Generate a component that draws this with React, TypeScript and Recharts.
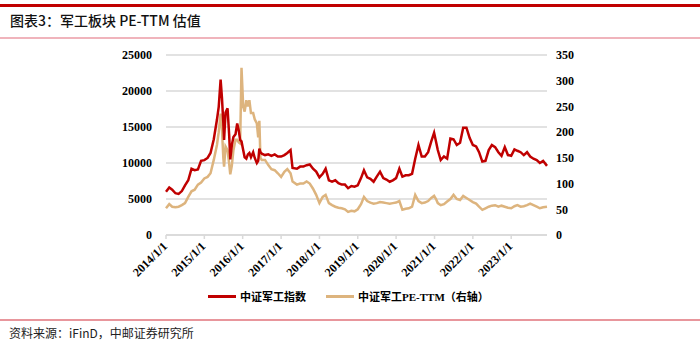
import React from "react";
import { LineChart, Line, XAxis, YAxis, CartesianGrid } from "recharts";

// 日期（月度为主，2015-2016 波动段加密）
const dates = [
  "2014-01-01", "2014-02-01", "2014-03-01", "2014-04-01", "2014-05-01", "2014-06-01",
  "2014-07-01", "2014-08-01", "2014-09-01", "2014-10-01", "2014-11-01", "2014-12-01",
  "2015-01-01", "2015-02-01", "2015-03-01", "2015-04-01", "2015-05-01", "2015-05-18",
  "2015-06-05", "2015-06-18", "2015-07-01", "2015-07-08", "2015-07-22", "2015-08-10",
  "2015-08-25", "2015-09-05", "2015-09-20", "2015-10-05", "2015-10-25", "2015-11-10",
  "2015-11-25", "2015-12-08", "2015-12-21", "2016-01-06", "2016-01-20", "2016-02-05",
  "2016-02-20", "2016-03-05", "2016-03-20", "2016-04-10", "2016-04-25", "2016-05-15",
  "2016-05-28", "2016-06-08", "2016-06-18", "2016-07-01", "2016-08-01", "2016-09-01",
  "2016-10-01", "2016-11-01", "2016-12-01", "2017-01-01", "2017-02-01", "2017-03-01",
  "2017-04-01", "2017-04-20", "2017-06-01", "2017-07-01", "2017-08-01", "2017-09-01",
  "2017-10-01", "2017-11-01", "2017-12-01", "2018-01-01", "2018-02-01", "2018-03-01",
  "2018-04-01", "2018-05-01", "2018-06-01", "2018-07-01", "2018-08-01", "2018-09-01",
  "2018-10-01", "2018-11-01", "2018-12-01", "2019-01-01", "2019-02-01", "2019-03-01",
  "2019-04-01", "2019-05-01", "2019-06-01", "2019-07-01", "2019-08-01", "2019-09-01",
  "2019-10-01", "2019-11-01", "2019-12-01", "2020-01-01", "2020-02-01", "2020-03-01",
  "2020-04-01", "2020-05-01", "2020-06-01", "2020-07-01", "2020-08-01", "2020-09-01",
  "2020-10-01", "2020-11-01", "2020-12-01", "2020-12-28", "2021-01-15", "2021-02-01",
  "2021-03-01", "2021-04-01", "2021-05-01", "2021-06-01", "2021-07-01", "2021-08-01",
  "2021-09-01", "2021-10-01", "2021-11-01", "2021-12-01", "2022-01-01", "2022-02-01",
  "2022-03-01", "2022-04-01", "2022-05-01", "2022-06-01", "2022-07-01", "2022-08-01",
  "2022-09-01", "2022-10-01", "2022-11-01", "2022-12-01", "2023-01-01", "2023-02-01",
  "2023-03-01", "2023-04-01", "2023-05-01", "2023-06-01", "2023-07-01", "2023-08-01",
  "2023-09-01", "2023-10-01", "2023-11-01", "2023-12-08",
];

// 中证军工指数
const indexValues = [
  6000, 6600, 6300, 5800, 5700, 6100, 6900, 7600, 9200, 9000, 9100, 10300,
  10400, 10700, 11400, 13300, 16000, 17800, 21600, 19000, 15500, 13200, 17000, 17600,
  14000, 10500, 12500, 13600, 14000, 15500, 14500, 13200, 13000, 11800, 10800, 10600,
  11200, 11400, 10800, 11500, 10700, 10000, 10300, 12000, 11500, 11300, 11100, 11200,
  11000, 11200, 10900, 10900, 11100, 11400, 11800, 9300, 9200, 9500, 9500, 9700,
  9800, 9200, 8800, 8000, 8500, 9200, 7600, 7400, 7600, 7200, 7000, 7000,
  6500, 6800, 6700, 6900, 7900, 9000, 8000, 7800, 7400, 8100, 8800, 7900,
  7700, 7400, 7600, 7900, 9200, 8100, 8300, 8300, 8500, 10600, 12500, 10900,
  10900, 11500, 13000, 14200, 13000, 11800, 10400, 10900, 10600, 13400, 13300, 12500,
  12800, 14900, 14900, 13500, 12500, 12300, 11500, 10200, 10300, 11800, 12500, 12200,
  11500, 11000, 12200, 11100, 11000, 11900, 11700, 11500, 11100, 11500, 10900, 10600,
  10400, 10000, 10300, 9600,
];

// 中证军工PE-TTM（右轴）
const peValues = [
  52, 60, 55, 54, 55, 58, 62, 74, 85, 88, 98, 102,
  110, 113, 120, 146, 175, 200, 236, 205, 150, 133, 172, 165,
  140, 118, 135, 165, 185, 185, 180, 178, 325, 250, 240, 262,
  250, 262, 237, 237, 225, 217, 190, 222, 150, 146, 146, 136,
  128, 126, 120, 113, 123, 128, 120, 104, 98, 100, 100, 104,
  100, 90, 78, 62, 74, 78, 62, 58, 55, 53, 52, 50,
  45, 47, 46, 50, 60, 74, 66, 63, 61, 62, 64, 63,
  62, 61, 62, 63, 66, 49, 51, 52, 55, 78, 66, 62,
  63, 66, 72, 76, 70, 62, 58, 60, 65, 70, 78, 70,
  68, 76, 72, 68, 64, 61, 55, 49, 52, 55, 57, 58,
  55, 57, 55, 53, 52, 56, 58, 55, 56, 58, 61, 58,
  55, 52, 54, 55,
];

const xTickLabels = [
  "2014-01-01", "2015-01-01", "2016-01-01", "2017-01-01", "2018-01-01",
  "2019-01-01", "2020-01-01", "2021-01-01", "2022-01-01", "2023-01-01",
];
const leftTicks = [0, 5000, 10000, 15000, 20000, 25000];
const rightTicks = [0, 50, 100, 150, 200, 250, 300, 350];

const toTime = (s: string) => Date.parse(s + "T00:00:00Z");

const data = dates.map((d, i) => ({
  time: toTime(d),
  index: indexValues[i],
  pe: peValues[i],
}));

const RED = "#C00000";
const TAN = "#DDB47E";
const GRID = "#D9D9D9";
const AXIS_FONT = '"Liberation Serif", "Times New Roman", serif';

function formatDate(ts: number): string {
  const d = new Date(ts);
  return `${d.getUTCFullYear()}/${d.getUTCMonth() + 1}/${d.getUTCDate()}`;
}

function RotatedTick(props: any) {
  const { x, y, payload } = props;
  return (
    <text
      x={x + 2}
      y={y + 6}
      transform={`rotate(-45, ${x + 2}, ${y + 6})`}
      textAnchor="end"
      fontFamily={AXIS_FONT}
      fontWeight="bold"
      fontSize={12}
      fill="#000"
    >
      {formatDate(payload.value)}
    </text>
  );
}

export default function App() {
  const start = toTime(dates[0]);
  const end = toTime(dates[dates.length - 1]);
  return (
    <div
      style={{
        position: "absolute",
        left: 0,
        top: 0,
        width: 700,
        height: 351,
        background: "#fff",
        overflow: "hidden",
      }}
    >
      {/* 顶部红线 */}
      <div style={{ position: "absolute", left: 0, top: 4, width: 700, height: 3, background: RED }} />
      <div
        style={{
          position: "absolute",
          left: 10,
          top: 10,
          fontFamily: '"Noto Sans CJK SC", sans-serif',
          fontSize: 14,
          fontWeight: 500,
          color: "#111",
          whiteSpace: "nowrap",
        }}
      >
        图表3：军工板块 PE-TTM 估值
      </div>
      <div style={{ position: "absolute", left: 0, top: 37, width: 700, height: 2, background: "#F0B4BC" }} />

      <div style={{ position: "absolute", left: 0, top: 0 }}>
        <LineChart width={700} height={300} data={data} margin={{ top: 55, right: 0, bottom: 0, left: 0 }}>
          <CartesianGrid yAxisId="left" vertical={false} stroke={GRID} strokeWidth={1.5} />
          <XAxis
            dataKey="time"
            type="number"
            scale="time"
            domain={[start, end]}
            ticks={xTickLabels.map(toTime)}
            tick={<RotatedTick />}
            height={65}
            stroke={GRID}
            strokeWidth={1.5}
            tickLine={{ stroke: GRID }}
            tickSize={4}
            interval={0}
          />
          <YAxis
            yAxisId="left"
            orientation="left"
            domain={[0, 25000]}
            ticks={leftTicks}
            width={166}
            axisLine={false}
            tickLine={false}
            tickMargin={8}
            tick={{ fontFamily: AXIS_FONT, fontWeight: "bold", fontSize: 12, fill: "#000" }}
          />
          <YAxis
            yAxisId="right"
            orientation="right"
            domain={[0, 350]}
            ticks={rightTicks}
            width={153}
            axisLine={false}
            tickLine={false}
            tickMargin={3}
            tick={{ fontFamily: AXIS_FONT, fontWeight: "bold", fontSize: 12, fill: "#000" }}
          />
          <Line
            yAxisId="right"
            type="linear"
            dataKey="pe"
            stroke={TAN}
            strokeWidth={2.5}
            dot={false}
            isAnimationActive={false}
          />
          <Line
            yAxisId="left"
            type="linear"
            dataKey="index"
            stroke={RED}
            strokeWidth={2.5}
            dot={false}
            isAnimationActive={false}
          />
        </LineChart>
      </div>

      {/* 图例 */}
      <div
        style={{
          position: "absolute",
          left: 208,
          top: 288,
          display: "flex",
          alignItems: "center",
          fontFamily: '"Liberation Serif", "Noto Sans CJK SC", serif',
          fontWeight: "bold",
          fontSize: 11,
          color: "#000",
          whiteSpace: "nowrap",
        }}
      >
        <span style={{ display: "inline-block", width: 28, height: 3, background: RED, marginRight: 4 }} />
        <span>中证军工指数</span>
        <span style={{ display: "inline-block", width: 28, height: 3, background: TAN, marginLeft: 20, marginRight: 4 }} />
        <span>中证军工PE-TTM（右轴）</span>
      </div>

      {/* 底部线与来源 */}
      <div style={{ position: "absolute", left: 0, top: 319, width: 700, height: 2, background: "#E8969C" }} />
      <div
        style={{
          position: "absolute",
          left: 9,
          top: 324,
          fontFamily: '"Noto Sans CJK SC", sans-serif',
          fontSize: 12,
          color: "#222",
          whiteSpace: "nowrap",
        }}
      >
        资料来源：iFinD，中邮证券研究所
      </div>
    </div>
  );
}
